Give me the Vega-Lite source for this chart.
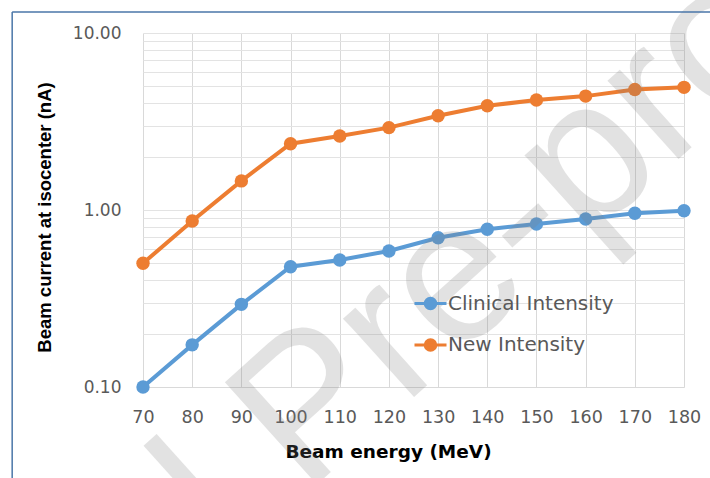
{
  "$schema": "https://vega.github.io/schema/vega-lite/v6.json",
  "width": 541,
  "height": 354,
  "autosize": "none",
  "padding": {"left": 143, "top": 33, "right": 26, "bottom": 91},
  "background": "white",
  "config": {"view": {"stroke": null}, "font": "DejaVu Sans"},
  "datasets": {
    "series": [
      {"energy": 70, "series": "Clinical Intensity", "current": 0.10},
      {"energy": 80, "series": "Clinical Intensity", "current": 0.173},
      {"energy": 90, "series": "Clinical Intensity", "current": 0.293},
      {"energy": 100, "series": "Clinical Intensity", "current": 0.478},
      {"energy": 110, "series": "Clinical Intensity", "current": 0.522},
      {"energy": 120, "series": "Clinical Intensity", "current": 0.587},
      {"energy": 130, "series": "Clinical Intensity", "current": 0.697},
      {"energy": 140, "series": "Clinical Intensity", "current": 0.778},
      {"energy": 150, "series": "Clinical Intensity", "current": 0.834},
      {"energy": 160, "series": "Clinical Intensity", "current": 0.889},
      {"energy": 170, "series": "Clinical Intensity", "current": 0.958},
      {"energy": 180, "series": "Clinical Intensity", "current": 0.99},
      {"energy": 70, "series": "New Intensity", "current": 0.50},
      {"energy": 80, "series": "New Intensity", "current": 0.867},
      {"energy": 90, "series": "New Intensity", "current": 1.46},
      {"energy": 100, "series": "New Intensity", "current": 2.37},
      {"energy": 110, "series": "New Intensity", "current": 2.62},
      {"energy": 120, "series": "New Intensity", "current": 2.92},
      {"energy": 130, "series": "New Intensity", "current": 3.41},
      {"energy": 140, "series": "New Intensity", "current": 3.88},
      {"energy": 150, "series": "New Intensity", "current": 4.18},
      {"energy": 160, "series": "New Intensity", "current": 4.40},
      {"energy": 170, "series": "New Intensity", "current": 4.80},
      {"energy": 180, "series": "New Intensity", "current": 4.93}
    ],
    "watermark": [{"text": "Journal Pre-proof", "x": 103.95, "y": 0.0741}],
    "frameTop": [{"x": 43.4, "x2": 190, "y": 13.14}],
    "frameLeft": [{"x": 43.4, "y": 13.14, "y2": 0.02}]
  },
  "layer": [
    {
      "data": {"name": "series"},
      "mark": {"type": "line", "strokeWidth": 4, "point": {"filled": true, "size": 180, "opacity": 1}},
      "encoding": {
        "x": {
          "field": "energy", "type": "quantitative",
          "scale": {"domain": [70, 180], "nice": false, "zero": false},
          "axis": {
            "values": [70, 80, 90, 100, 110, 120, 130, 140, 150, 160, 170, 180],
            "grid": true, "gridColor": "#d9d9d9", "gridWidth": 1,
            "domainColor": "#d9d9d9", "ticks": false,
            "labelOverlap": false, "labelFlush": false,
            "labelFontSize": 17.5, "labelColor": "#595959", "labelPadding": 21,
            "title": "Beam energy (MeV)", "titleFontSize": 18.5, "titleFontWeight": "bold",
            "titleColor": "#000000", "titlePadding": 17, "titleX": 245
          }
        },
        "y": {
          "field": "current", "type": "quantitative",
          "scale": {"type": "log", "domain": [0.1, 10], "nice": false},
          "axis": {
            "values": [0.1, 0.2, 0.3, 0.4, 0.5, 0.6, 0.7, 0.8, 0.9, 1, 2, 3, 4, 5, 6, 7, 8, 9, 10],
            "labelExpr": "abs(log(datum.value)/LN10 - round(log(datum.value)/LN10)) < 0.000001 ? format(datum.value, '.2f') : ''",
            "labelOverlap": false,
            "grid": true, "gridColor": "#e3e3e3", "gridWidth": 1,
            "domain": false, "ticks": false,
            "labelFontSize": 17, "labelColor": "#595959", "labelPadding": 22,
            "title": "Beam current at isocenter (nA)", "titleFont": "Liberation Sans", "titleFontSize": 18.5, "titleFontWeight": "bold",
            "titleColor": "#000000", "titlePadding": 18, "titleY": 184
          }
        },
        "color": {
          "field": "series", "type": "nominal",
          "scale": {"domain": ["Clinical Intensity", "New Intensity"], "range": ["#5B9BD5", "#ED7D31"]},
          "legend": {
            "title": null, "orient": "none", "legendX": 270, "legendY": 253,
            "symbolType": "M-1,0L1,0M-0.33,0A0.33,0.33,0,1,0,0.33,0A0.33,0.33,0,1,0,-0.33,0",
            "symbolSize": 1024, "symbolStrokeWidth": 3,
            "labelFontSize": 20, "labelColor": "#595959", "labelOffset": 0, "labelLimit": 400, "rowPadding": 12.5,
            "encode": {"symbols": {"update": {"fill": {"scale": "color", "field": "value"}, "stroke": {"scale": "color", "field": "value"}, "opacity": {"value": 1}}}}
          }
        }
      }
    },
    {
      "data": {"name": "watermark"},
      "mark": {"type": "text", "font": "Liberation Sans", "fontSize": 200, "angle": -42, "align": "center", "baseline": "middle", "fill": "#7f7f7f", "opacity": 0.22},
      "encoding": {
        "x": {"field": "x", "type": "quantitative"},
        "y": {"field": "y", "type": "quantitative"},
        "text": {"field": "text"}
      }
    },
    {
      "data": {"name": "frameTop"},
      "mark": {"type": "rule", "color": "#4a76a8", "strokeWidth": 1.5},
      "encoding": {
        "x": {"field": "x", "type": "quantitative"},
        "x2": {"field": "x2"},
        "y": {"field": "y", "type": "quantitative"}
      }
    },
    {
      "data": {"name": "frameLeft"},
      "mark": {"type": "rule", "color": "#4a76a8", "strokeWidth": 1.5},
      "encoding": {
        "x": {"field": "x", "type": "quantitative"},
        "y": {"field": "y", "type": "quantitative"},
        "y2": {"field": "y2"}
      }
    }
  ]
}
